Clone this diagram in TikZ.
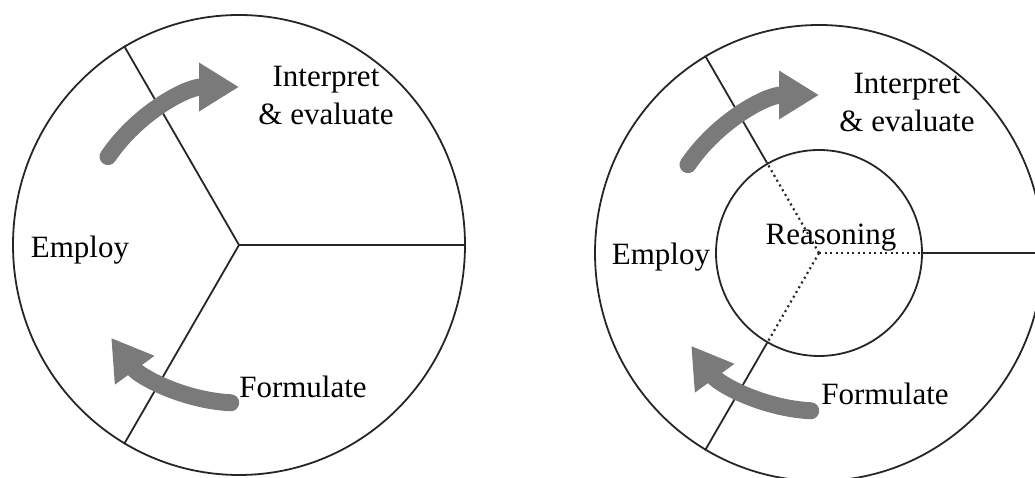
\documentclass[tikz,border=0pt]{standalone}
\usepackage{fontspec}
\setmainfont{Liberation Serif}
\usetikzlibrary{arrows.meta, shapes.geometric}
\definecolor{ink}{HTML}{262626}
\definecolor{flowgray}{HTML}{7A7A7A}
\tikzset{
  rim/.style={
    draw=ink,
    ellipse,
    line width=1.8pt,
    inner sep=0pt,
    minimum width=452pt,
    minimum height=460pt
  },
  core/.style={draw=ink, circle, line width=1.8pt, inner sep=0pt, minimum size=206pt},
  spoke/.style={draw=ink, line width=1.8pt},
  inner spoke/.style={draw=ink, line width=2.2pt, dash pattern=on 2pt off 3.5pt},
  flow/.style={draw=flowgray, line width=17pt, line cap=round, -{Triangle[length=40pt, width=46pt]}},
  phase/.style={font=\fontsize{31}{35}\selectfont, anchor=base, inner sep=0pt, align=center}
}

\begin{document}
\begin{tikzpicture}[x=1pt, y=1pt]

\clip (0,0) rectangle (1035,478);

% left wheel: three phases
\node[rim] (Lw) at (239,233) {};

\draw[spoke] (Lw.center) -- (Lw.0);
\draw[spoke] (Lw.center) -- (Lw.120);
\draw[spoke] (Lw.center) -- (Lw.240);

\draw[flow] ([shift={(146:158)}]Lw.center) arc[start angle=146, end angle=90, radius=158];
\draw[flow] ([shift={(267:158)}]Lw.center) arc[start angle=267, end angle=216, radius=158];

\node[phase] (Linterp) at (326,353) {Interpret\\[3pt]\& evaluate};
\node[phase] (Lemploy) at (80,220) {Employ};
\node[phase] (Lformul) at (303,80) {Formulate};

% right wheel: reasoning in the middle
\node[rim, minimum width=448pt, minimum height=456pt] (Rw) at (819,225) {};
\node[core] (Rin) at (819,225) {};

\draw[inner spoke] (Rw.center) -- (Rin.0);
\draw[inner spoke] (Rw.center) -- (Rin.120);
\draw[inner spoke] (Rw.center) -- (Rin.240);
\draw[spoke] (Rin.0) -- (Rw.0);
\draw[spoke] (Rin.120) -- (Rw.120);
\draw[spoke] (Rin.240) -- (Rw.240);

\draw[flow] ([shift={(146:158)}]Rw.center) arc[start angle=146, end angle=90, radius=158];
\draw[flow] ([shift={(267:158)}]Rw.center) arc[start angle=267, end angle=216, radius=158];

\node[phase] (Rinterp) at (907,346) {Interpret\\[3pt]\& evaluate};
\node[phase] (Remploy) at (661,213) {Employ};
\node[phase] (Rformul) at (885,73) {Formulate};
\node[phase] (Rreason) at (831,233) {Reasoning};

\end{tikzpicture}
\end{document}
